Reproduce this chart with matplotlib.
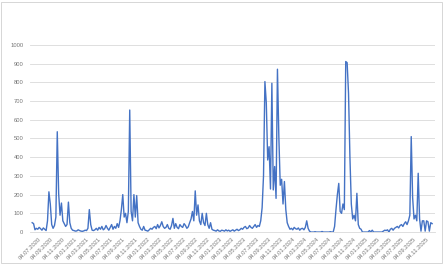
import matplotlib
matplotlib.use("Agg")
import matplotlib.pyplot as plt
from matplotlib.patches import Rectangle
import pandas as pd

# weekly values, first week starting 04.06.2020
START = "2020-06-04"
values = [
    50, 45, 12, 20, 15, 25, 18, 10, 22, 15,
    8, 60, 215, 150, 40, 20, 35, 80, 536, 205,
    90, 155, 60, 45, 30, 40, 160, 50, 20, 10,
    8, 5, 6, 12, 8, 5, 4, 6, 10, 8,
    20, 120, 40, 10, 8, 12, 20, 10, 25, 15,
    30, 12, 18, 35, 20, 10, 25, 40, 15, 30,
    20, 45, 25, 60, 120, 200, 80, 100, 50, 110,
    652, 110, 60, 200, 80, 195, 50, 30, 15, 10,
    30, 10, 8, 5, 12, 20, 15, 25, 30, 18,
    40, 22, 35, 55, 30, 20, 25, 40, 20, 15,
    35, 73, 20, 45, 25, 18, 40, 30, 25, 45,
    35, 20, 28, 50, 70, 110, 60, 220, 90, 145,
    60, 40, 100, 50, 35, 100, 40, 20, 50, 15,
    10, 8, 5, 12, 6, 4, 10, 8, 5, 12,
    6, 10, 4, 8, 12, 5, 10, 15, 8, 12,
    20, 15, 25, 30, 18, 22, 35, 25, 20, 30,
    40, 25, 35, 30, 60, 130, 300, 804, 690, 385,
    456, 230, 795, 225, 350, 180, 870, 510, 250, 282,
    150, 270, 120, 50, 30, 15, 20, 12, 25, 18,
    15, 22, 10, 18, 20, 12, 25, 60, 20, 5,
    0, 0, 0, 2, 0, 0, 0, 0, 3, 0,
    0, 0, 0, 0, 2, 0, 0, 30, 120, 200,
    260, 110, 100, 150, 120, 911, 905, 742, 403, 150,
    70, 90, 60, 207, 40, 20, 15, 0, 0, 0,
    0, 0, 8, 0, 10, 0, 0, 0, 0, 0,
    0, 0, 5, 10, 8, 12, 0, 15, 20, 10,
    20, 25, 30, 22, 35, 40, 30, 45, 55, 40,
    60, 90, 510, 185, 70, 90, 60, 314, 70, 5,
    60, 60, 5, 60, 55, 5, 50, 45,
]

tick_labels = [
    "04.07.2020", "04.09.2020", "04.11.2020",
    "04.01.2021", "04.03.2021", "04.05.2021", "04.07.2021", "04.09.2021", "04.11.2021",
    "04.01.2022", "04.03.2022", "04.05.2022", "04.07.2022", "04.09.2022", "04.11.2022",
    "04.01.2023", "04.03.2023", "04.05.2023", "04.07.2023", "04.09.2023", "04.11.2023",
    "04.01.2024", "04.03.2024", "04.05.2024", "04.07.2024", "04.09.2024", "04.11.2024",
    "04.01.2025", "04.03.2025", "04.05.2025", "04.07.2025", "04.09.2025", "04.11.2025",
]
y_ticks = [0, 100, 200, 300, 400, 500, 600, 700, 800, 900, 1000]


def main():
    dates = pd.date_range(START, periods=len(values), freq="7D")
    tick_dates = pd.to_datetime(tick_labels, format="%d.%m.%Y")

    plt.rcParams["font.family"] = ["Liberation Sans", "DejaVu Sans"]
    fig = plt.figure(figsize=(4.44, 2.64), dpi=100)
    ax = fig.add_axes([0.068, 0.121, 0.912, 0.709])

    ax.plot(dates, values, color="#4472C4", linewidth=1.0)

    ax.set_ylim(0, 1000)
    ax.set_yticks(y_ticks)
    ax.set_xlim(dates[0] - pd.Timedelta(days=10), dates[-1] + pd.Timedelta(days=15))
    ax.set_xticks(tick_dates)
    ax.set_xticklabels(tick_labels, rotation=45, ha="right", rotation_mode="anchor")

    ax.grid(axis="y", color="#d9d9d9", linewidth=0.6)
    ax.set_axisbelow(True)
    for side in ["top", "right", "left"]:
        ax.spines[side].set_visible(False)
    ax.spines["bottom"].set_color("#d9d9d9")
    ax.spines["bottom"].set_linewidth(0.6)
    ax.tick_params(axis="both", length=0, labelsize=4.2, colors="#767676")
    ax.tick_params(axis="x", pad=3)
    ax.tick_params(axis="y", pad=5)

    # light frame around the chart
    fig.patches.append(Rectangle((0.003, 0.004), 0.992, 0.99, transform=fig.transFigure,
                                 fill=False, edgecolor="#d0d0d0", linewidth=0.6))

    fig.savefig("out.png", dpi=100)


if __name__ == "__main__":
    main()
